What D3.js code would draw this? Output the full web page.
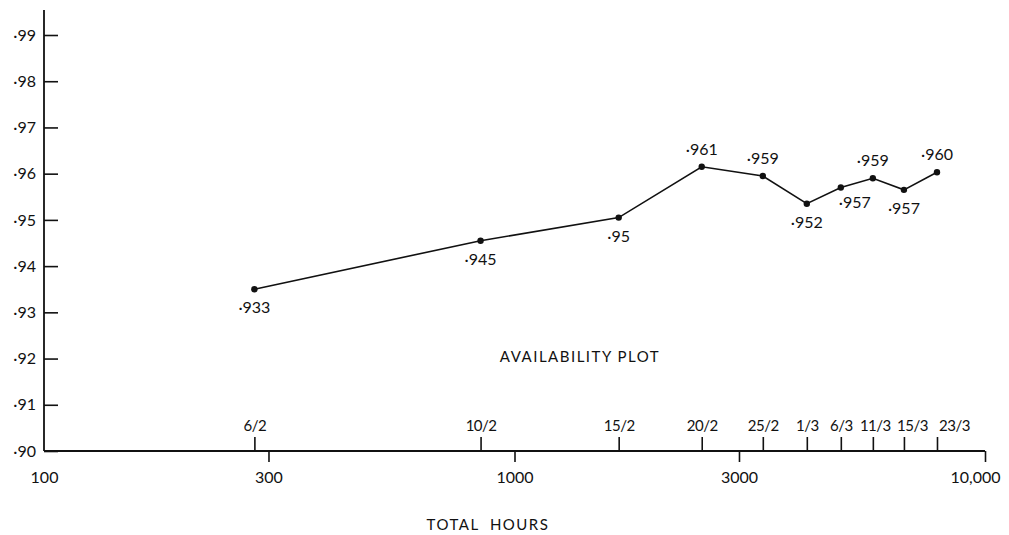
<!DOCTYPE html>
<html>
<head>
<meta charset="utf-8">
<script src="https://cdn.jsdelivr.net/npm/d3@7"></script>
<style>
  body { margin: 0; background: #fff; }
  text { font-family: Lato, "Open Sans", sans-serif; fill: #111; }
</style>
</head>
<body>
<div id="chart"></div>
<script>
// hours at each reading, date of reading, availability, printed label
let hours = [280, 847, 1665, 2500, 3371, 4181, 4938, 5776, 6725, 7906]
let dates = ["6/2", "10/2", "15/2", "20/2", "25/2", "1/3", "6/3", "11/3", "15/3", "23/3"]
let availability = [0.935, 0.9455, 0.9505, 0.9615, 0.9595, 0.9535, 0.957, 0.959, 0.9565, 0.9603]
let pointLabels = ["·933", "·945", "·95", "·961", "·959", "·952", "·957", "·959", "·957", "·960"]
let hourTicks = [100, 300, 1000, 3000, 10000]
let availTicks = [0.90, 0.91, 0.92, 0.93, 0.94, 0.95, 0.96, 0.97, 0.98, 0.99]

// which side of the point each label sits
let labelSide = ["below", "below", "below", "above", "above", "below", "right", "above", "below", "above"]
// date labels at the crowded end are nudged right, like the original
let dateShift = [0, 0, 0, 0, 0, 0, 0, 2, 8, 17]

var width = 1009, height = 535

var svg = d3.select("#chart")
  .append("svg")
    .attr("width", width)
    .attr("height", height)

var x = d3.scaleLog()
    .domain([100, 10000])
    .range([44, 985])

var y = d3.scaleLinear()
    .domain([0.90, 0.99])
    .range([451, 35])

var y0 = y(0.90)

// Y axis
let yAxis = svg.append("g")
    .attr("transform", `translate(${x(100)},0)`)
    .call(d3.axisLeft(y)
        .tickValues(availTicks)
        .tickSizeInner(-14)
        .tickSizeOuter(0)
        .tickPadding(8)
        .tickFormat(d => "·" + d3.format(".2f")(d).slice(2)))
yAxis.select(".domain").remove()
yAxis.selectAll("line").attr("stroke", "#111").attr("stroke-width", 1.6)
yAxis.selectAll("text").style("font-size", "16px")

svg.append("line")
    .attr("x1", x(100)).attr("x2", x(100))
    .attr("y1", y0).attr("y2", 10)
    .attr("stroke", "#111").attr("stroke-width", 1.8)

// X axis (total hours, log)
let xAxis = svg.append("g")
    .attr("transform", `translate(0,${y0})`)
    .call(d3.axisBottom(x)
        .tickValues(hourTicks)
        .tickSizeInner(11)
        .tickSizeOuter(0)
        .tickPadding(10)
        .tickFormat(d => d === 10000 ? "10,000" : d))
xAxis.select(".domain").remove()
xAxis.selectAll("line")
    .attr("stroke", "#111").attr("stroke-width", 1.6)
    .attr("opacity", d => d === 100 ? 0 : 1)
xAxis.selectAll("text")
    .style("font-size", "16px")
    .attr("dx", d => d === 10000 ? -10 : 0)

svg.append("line")
    .attr("x1", x(100)).attr("x2", x(10000))
    .attr("y1", y0).attr("y2", y0)
    .attr("stroke", "#111").attr("stroke-width", 1.8)

// date ticks above the axis
let dateAxis = svg.append("g")
    .attr("transform", `translate(0,${y0})`)
    .call(d3.axisTop(x)
        .tickValues(hours)
        .tickSizeInner(14)
        .tickSizeOuter(0)
        .tickPadding(6)
        .tickFormat((d, i) => dates[i]))
dateAxis.select(".domain").remove()
dateAxis.selectAll("line").attr("stroke", "#111").attr("stroke-width", 1.6)
dateAxis.selectAll("text")
    .style("font-size", "15px")
    .style("letter-spacing", "-0.5px")
    .attr("dx", (d, i) => dateShift[i])

// availability line
svg.append("path")
    .datum(hours.map((h, i) => [h, availability[i]]))
    .attr("fill", "none")
    .attr("stroke", "#111")
    .attr("stroke-width", 1.6)
    .attr("d", d3.line().x(d => x(d[0])).y(d => y(d[1])))

svg.selectAll("circle")
    .data(hours)
    .join("circle")
    .attr("cx", d => x(d))
    .attr("cy", (d, i) => y(availability[i]))
    .attr("r", 3.2)
    .attr("fill", "#111")

svg.selectAll(".pointLabel")
    .data(hours)
    .join("text")
    .attr("class", "pointLabel")
    .attr("x", (d, i) => labelSide[i] === "right" ? x(d) - 2 : x(d))
    .attr("y", (d, i) => y(availability[i]) + (labelSide[i] === "above" ? -12 : labelSide[i] === "right" ? 20 : 24))
    .attr("text-anchor", (d, i) => labelSide[i] === "right" ? "start" : "middle")
    .style("font-size", "16px")
    .text((d, i) => pointLabels[i])

svg.append("text")
    .attr("x", 580)
    .attr("y", 362)
    .attr("text-anchor", "middle")
    .style("font-size", "15px")
    .style("letter-spacing", "1.5px")
    .text("AVAILABILITY PLOT")

svg.append("text")
    .attr("x", 488)
    .attr("y", 530)
    .attr("text-anchor", "middle")
    .style("font-size", "15px")
    .style("letter-spacing", "1.5px")
    .style("white-space", "pre")
    .text("TOTAL  HOURS")
</script>
</body>
</html>
